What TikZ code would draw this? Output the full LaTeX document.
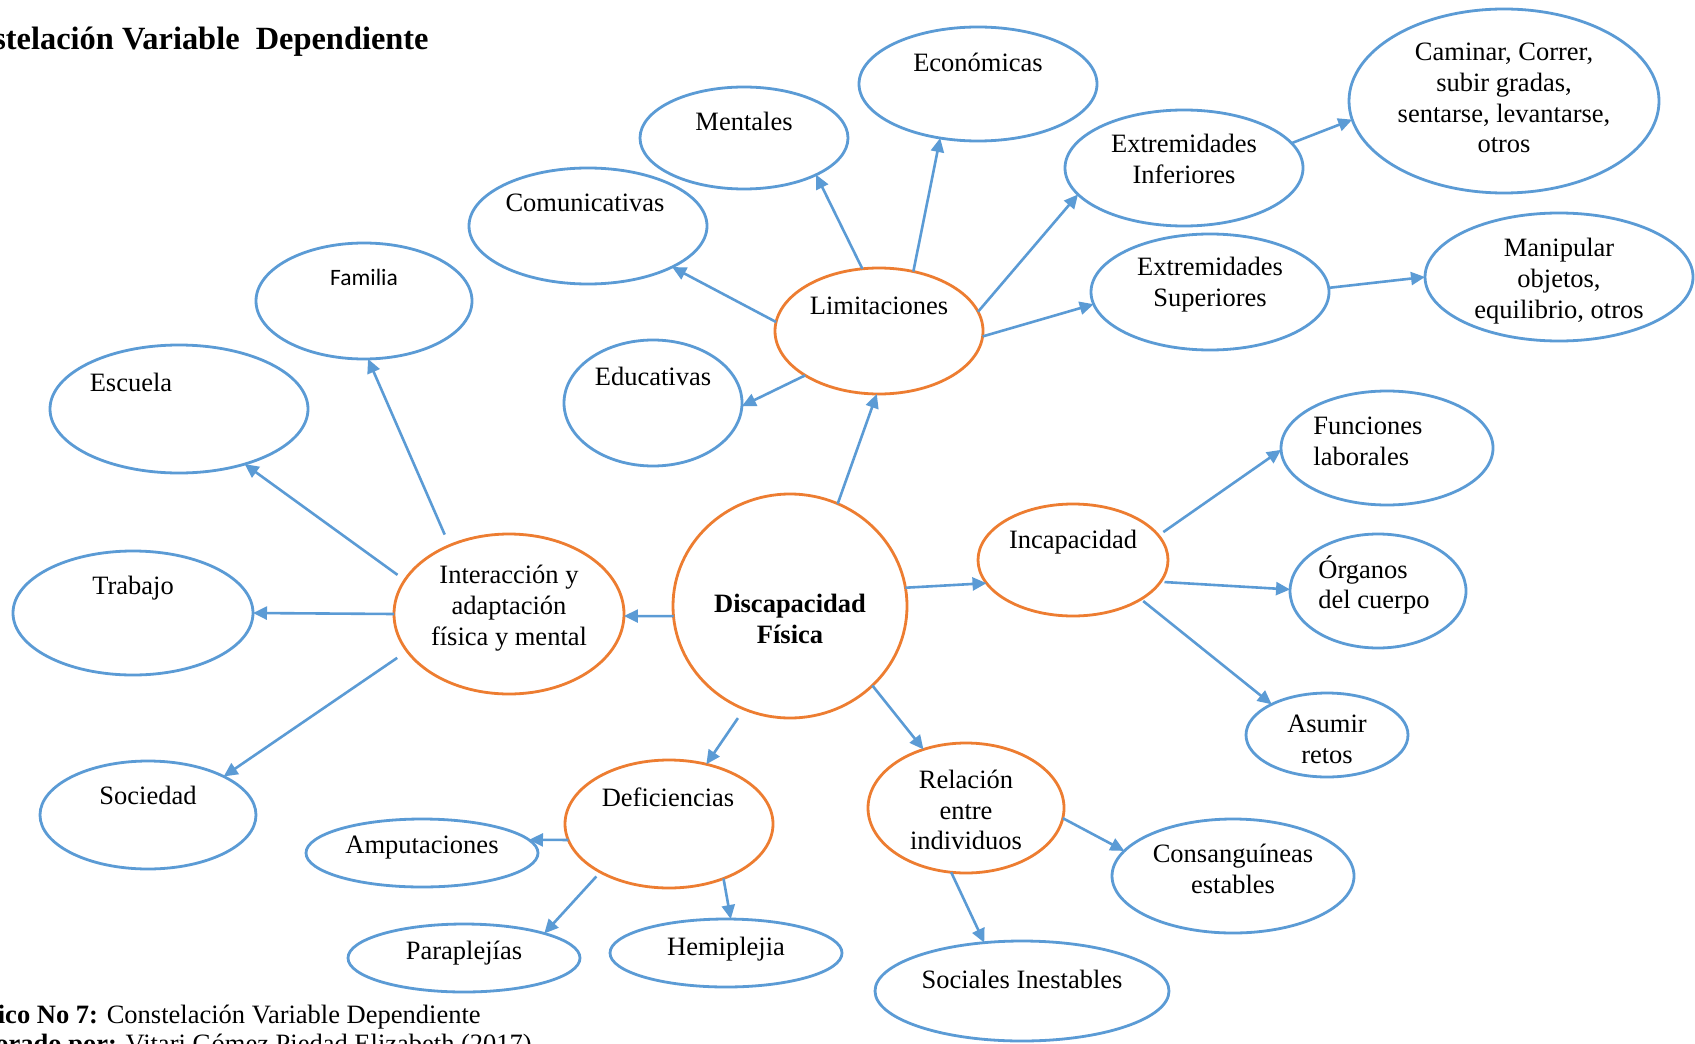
\documentclass[tikz,border=0pt]{standalone}
\usepackage{fontspec}
\setmainfont{Liberation Serif}
\newfontfamily\calibrifont{Carlito}
\usetikzlibrary{shapes.geometric,arrows.meta}
\definecolor{bblue}{HTML}{5B9BD5}
\definecolor{borange}{HTML}{ED7D31}

\begin{document}
\begin{tikzpicture}[x=0.5pt,y=-0.5pt,
  bub/.style={ellipse, draw=bblue, line width=1.4pt, inner sep=0pt, outer sep=0pt},
  core/.style={ellipse, draw=borange, line width=1.4pt, inner sep=0pt, outer sep=0pt},
  lbl/.style={font=\fontsize{13.25pt}{15.4pt}\selectfont, align=center, inner sep=0pt},
  capt/.style={font=\fontsize{13.25pt}{15.4pt}\selectfont, inner sep=0pt},
  arr/.style={draw=bblue, line width=1.3pt, -{Triangle[length=7pt,width=6.5pt]}}]

\useasboundingbox[fill=white] (0,0) rectangle (1695,1043);

% title and caption
\node[font=\bfseries\fontsize{16.2pt}{19pt}\selectfont, anchor=base east, inner sep=0pt] (title) at (429,50) {Constelación Variable\ \ Dependiente};
\node[capt, anchor=base east] (cap1) at (481,1023) {\textbf{Gráfico No 7:} Constelación Variable Dependiente};
\node[capt, anchor=base west] (cap2) at (-58,1052) {\textbf{Elaborado por:} Vitari Gómez Piedad Elizabeth (2017)};

% bubbles
\node[bub, minimum width=119pt, minimum height=57pt] (eco) at (978,84) {};
\node[bub, minimum width=104pt, minimum height=51pt] (men) at (744,138) {};
\node[bub, minimum width=119pt, minimum height=58pt] (com) at (588,226) {};
\node[bub, minimum width=119pt, minimum height=58pt] (exi) at (1184,168) {};
\node[bub, minimum width=155pt, minimum height=92pt] (cam) at (1504,101) {};
\node[bub, minimum width=119pt, minimum height=58pt] (exs) at (1210,292) {};
\node[bub, minimum width=134pt, minimum height=64pt] (man) at (1559,277) {};
\node[core, minimum width=104pt, minimum height=63pt] (lim) at (879,331) {};
\node[bub, minimum width=89pt, minimum height=63pt] (edu) at (653,403) {};
\node[bub, minimum width=108pt, minimum height=58pt] (fam) at (364,301) {};
\node[bub, minimum width=129pt, minimum height=64pt] (esc) at (179,409) {};
\node[bub, minimum width=120pt, minimum height=62pt] (tra) at (133,613) {};
\node[bub, minimum width=108pt, minimum height=54pt] (soc) at (148,815) {};
\node[core, minimum width=115pt, minimum height=80pt] (int) at (509,614) {};
\node[core, minimum width=117pt, minimum height=112pt] (dis) at (790,606) {};
\node[core, minimum width=95pt, minimum height=56pt] (inc) at (1073,560) {};
\node[bub, minimum width=106pt, minimum height=57pt] (fun) at (1387,448) {};
\node[bub, minimum width=88pt, minimum height=57pt] (org) at (1378,591) {};
\node[bub, minimum width=81pt, minimum height=42pt] (asu) at (1327,735) {};
\node[core, minimum width=98pt, minimum height=65pt] (rel) at (966,808) {};
\node[bub, minimum width=121pt, minimum height=57pt] (con) at (1233,876) {};
\node[bub, minimum width=147pt, minimum height=50pt] (sin) at (1022,991) {};
\node[core, minimum width=104pt, minimum height=64pt] (def) at (669,824) {};
\node[bub, minimum width=116pt, minimum height=34pt] (amp) at (422,853) {};
\node[bub, minimum width=116pt, minimum height=34pt] (par) at (464,958) {};
\node[bub, minimum width=116pt, minimum height=34pt] (hem) at (726,953) {};

% texts
\node[lbl] (eco-t) at (978,62) {Económicas};
\node[lbl] (men-t) at (744,121) {Mentales};
\node[lbl] (com-t) at (585,203) {Comunicativas};
\node[lbl] (exi-t) at (1184,159) {Extremidades\\Inferiores};
\node[lbl] (cam-t) at (1504,98) {Caminar, Correr,\\subir gradas,\\sentarse, levantarse,\\otros};
\node[lbl] (exs-t) at (1210,285) {Extremidades\\Superiores};
\node[lbl] (man-t) at (1559,281) {Manipular\\objetos,\\equilibrio, otros};
\node[lbl] (lim-t) at (879,306) {Limitaciones};
\node[lbl] (edu-t) at (653,376) {Educativas};
\node[lbl, font=\calibrifont\fontsize{11.75pt}{14pt}\selectfont] (fam-t) at (364,277) {Familia};
\node[lbl] (esc-t) at (131,382) {Escuela};
\node[lbl] (tra-t) at (133,588) {Trabajo};
\node[lbl] (soc-t) at (148,795) {Sociedad};
\node[lbl] (int-t) at (509,608) {Interacción y\\adaptación\\física y mental};
\node[lbl, font=\bfseries\fontsize{13.25pt}{15.4pt}\selectfont] (dis-t) at (790,619) {Discapacidad\\Física};
\node[lbl] (inc-t) at (1073,542) {Incapacidad};
\node[lbl, anchor=west, align=left] (fun-t) at (1313,441) {Funciones\\laborales};
\node[lbl, anchor=west, align=left] (org-t) at (1318,585) {Órganos\\del cuerpo};
\node[lbl] (asu-t) at (1327,739) {Asumir\\retos};
\node[lbl] (rel-t) at (966,810) {Relación\\entre\\individuos};
\node[lbl] (con-t) at (1233,869) {Consanguíneas\\estables};
\node[lbl] (sin-t) at (1022,979) {Sociales Inestables};
\node[lbl] (def-t) at (668,797) {Deficiencias};
\node[lbl] (amp-t) at (422,848) {Amputaciones};
\node[lbl] (par-t) at (464,953) {Paraplejías};
\node[lbl] (hem-t) at (726,949) {Hemiplejia};

% connectors
\draw[arr] (dis.65) -- (lim.268);
\draw[arr] (lim.105) -- (men.-27);
\draw[arr] (lim.60) -- (eco.235);
\draw[arr] (lim.175) -- (com.-26);
\draw[arr] (lim.211) -- (edu.-2);
\draw[arr] (lim.11) -- (exi.194);
\draw[arr] (lim.-3) -- (exs.186);
\draw[arr] (exi.13) -- (cam.187);
\draw[arr] (exs.2) -- (man.180);
\draw[arr] (dis.185) -- (int.-1);
\draw[arr, shorten <=6pt] (int.131) -- (fam.-86);
\draw[arr, shorten <=4.5pt] (int.162) -- (esc.-40);
\draw[arr] (int.180) -- (tra.0);
\draw[arr, shorten <=6pt] (int.200) -- (soc.27);
\draw[arr] (dis.9) -- (inc.195);
\draw[arr, shorten <=3pt] (inc.16) -- (fun.181);
\draw[arr, shorten <=2pt] (inc.-14) -- (org.179);
\draw[arr, shorten <=1.5pt] (inc.-30) -- (asu.151);
\draw[arr, shorten <=5.5pt] (dis.246) -- (def.58);
\draw[arr] (dis.-44) -- (rel.126);
\draw[arr] (def.189) -- (amp.7);
\draw[arr, shorten <=3pt] (def.215) -- (par.17);
\draw[arr] (def.-45) -- (hem.82);
\draw[arr] (rel.-6) -- (con.167);
\draw[arr] (rel.257) -- (sin.128);
\end{tikzpicture}
\end{document}
